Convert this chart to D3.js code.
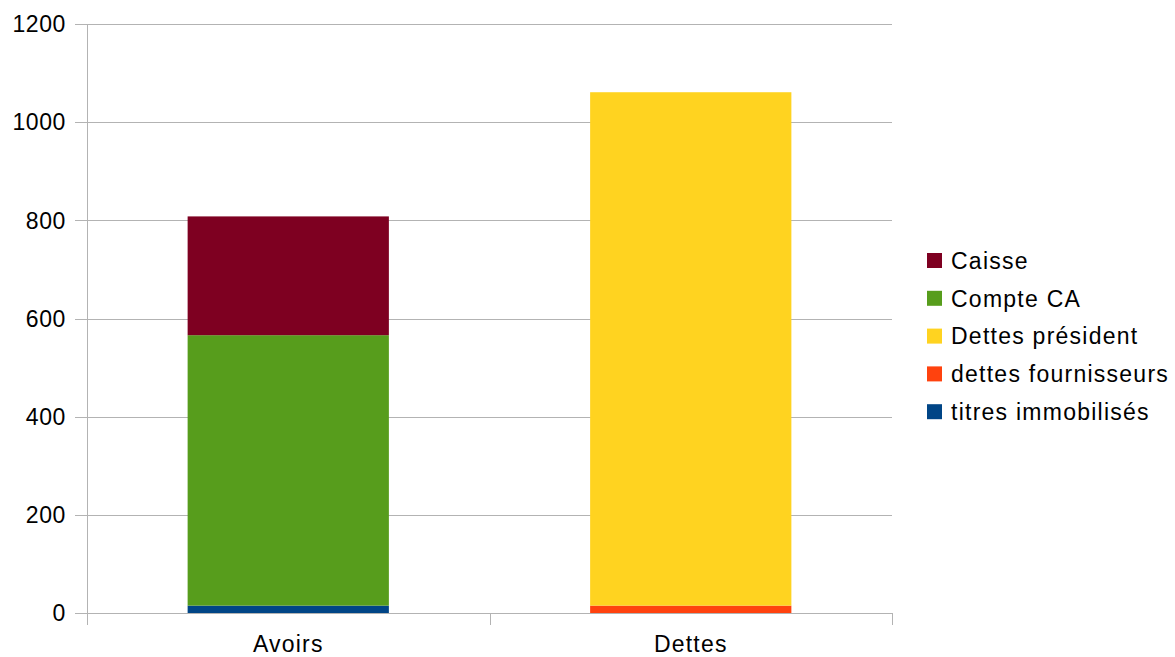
<!DOCTYPE html>
<html>
<head>
<meta charset="utf-8">
<script src="https://cdn.jsdelivr.net/npm/d3@7"></script>
<style>
  body { margin: 0; background: #fff; }
  text { font-family: "Liberation Sans", Arial, sans-serif; fill: #000; }
</style>
</head>
<body>
<div id="chart" style="width:1175px;height:657px;"></div>
<script>
const categories = ["Avoirs", "Dettes"];
const seriesNames = ["titres immobilisés", "dettes fournisseurs", "Dettes président", "Compte CA", "Caisse"];
const seriesColors = ["#004586", "#ff420e", "#ffd320", "#579d1c", "#7e0021"];
const titresImmobilises = [15, 0];
const dettesFournisseurs = [0, 15];
const dettesPresident = [0, 1046];
const compteCA = [551, 0];
const caisse = [242, 0];
const yTicks = [0, 200, 400, 600, 800, 1000, 1200];

const seriesValues = [titresImmobilises, dettesFournisseurs, dettesPresident, compteCA, caisse];
const table = categories.map((c, i) => {
    const row = {category: c};
    seriesNames.forEach((s, j) => row[s] = seriesValues[j][i]);
    return row;
});

const margin = {top: 24, right: 283, bottom: 44, left: 87};
const W = 1175, H = 657;
const width = W - margin.left - margin.right;
const height = H - margin.top - margin.bottom;

const svg = d3.select("#chart").append("svg")
    .attr("width", W)
    .attr("height", H);
const g = svg.append("g")
    .attr("transform", `translate(${margin.left}, ${margin.top})`);

const x = d3.scaleBand()
    .domain(categories)
    .range([0, width])
    .paddingInner(0.5)
    .paddingOuter(0.25);

const y = d3.scaleLinear()
    .domain([0, 1200])
    .range([height, 0]);

// gridlines
g.selectAll(".grid")
    .data(yTicks)
    .enter()
    .append("line")
    .attr("x1", -12)
    .attr("x2", width)
    .attr("y1", d => Math.round(y(d)) + 0.5)
    .attr("y2", d => Math.round(y(d)) + 0.5)
    .attr("stroke", "#b3b3b3")
    .attr("stroke-width", 1);

g.selectAll(".ylabel")
    .data(yTicks)
    .enter()
    .append("text")
    .attr("x", -21)
    .attr("y", d => y(d))
    .attr("dy", "0.36em")
    .attr("text-anchor", "end")
    .style("font-size", "23px")
    .style("letter-spacing", "0.6px")
    .text(d => d);

const stack = d3.stack().keys(seriesNames);
const stacked = stack(table);

g.selectAll(".series")
    .data(stacked)
    .enter()
    .append("g")
    .attr("fill", (d, i) => seriesColors[i])
    .selectAll("rect")
    .data(d => d)
    .enter()
    .append("rect")
    .attr("x", d => x(d.data.category))
    .attr("y", d => y(d[1]))
    .attr("width", x.bandwidth())
    .attr("height", d => y(d[0]) - y(d[1]));

// axes lines
g.append("line")
    .attr("x1", 0.5).attr("x2", 0.5)
    .attr("y1", 0).attr("y2", height + 12)
    .attr("stroke", "#b3b3b3");
g.append("line")
    .attr("x1", -12).attr("x2", width)
    .attr("y1", height + 0.5).attr("y2", height + 0.5)
    .attr("stroke", "#b3b3b3");

// category separators
g.selectAll(".sep")
    .data([0, width / 2, width])
    .enter()
    .append("line")
    .attr("x1", d => Math.round(d) + 0.5)
    .attr("x2", d => Math.round(d) + 0.5)
    .attr("y1", height)
    .attr("y2", height + 12)
    .attr("stroke", "#b3b3b3");

g.selectAll(".xlabel")
    .data(categories)
    .enter()
    .append("text")
    .attr("x", d => x(d) + x.bandwidth() / 2)
    .attr("y", height + 39)
    .attr("text-anchor", "middle")
    .style("font-size", "23px")
    .style("letter-spacing", "1.2px")
    .text(d => d);

// legend (reversed order, as stacked)
const legendItems = seriesNames.map((s, i) => ({name: s, color: seriesColors[i]})).reverse();
const legend = svg.append("g")
    .attr("transform", "translate(927, 253)");
const item = legend.selectAll(".item")
    .data(legendItems)
    .enter()
    .append("g")
    .attr("transform", (d, i) => `translate(0, ${i * 37.8})`);
item.append("rect")
    .attr("width", 15)
    .attr("height", 15)
    .attr("fill", d => d.color);
item.append("text")
    .attr("x", 24)
    .attr("y", 7.5)
    .attr("dy", "0.36em")
    .style("font-size", "23px")
    .style("letter-spacing", "1.25px")
    .text(d => d.name);
</script>
</body>
</html>
